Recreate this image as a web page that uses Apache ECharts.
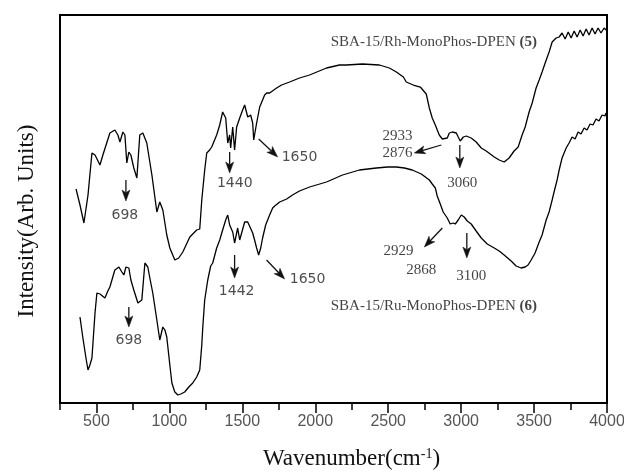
<!DOCTYPE html>
<html><head><meta charset="utf-8">
<script src="https://cdn.jsdelivr.net/npm/echarts@6/dist/echarts.min.js"></script>
<style>html,body{margin:0;padding:0;background:#fff}#c{width:624px;height:472px}</style>
</head><body><div id="c"></div>
<script>
// SBA-15/Rh-MonoPhos-DPEN (5) spectrum (wavenumber, arbitrary intensity)
const rhWavenumber = [360,387,414,442,469,490,524,544,592,626,647,661,681,695,708,722,736,756,777,797,818,845,880,914,934,955,982,1003,1037,1064,1092,1140,1187,1208,1222,1242,1256,1276,1290,1324,1345,1365,1386,1400,1413,1420,1434,1447,1461,1482,1502,1516,1537,1557,1571,1578,1598,1619,1653,1667,1687,1735,1769,1824,1892,1961,2077,2166,2214,2323,2440,2508,2556,2604,2624,2672,2720,2761,2782,2802,2823,2850,2871,2905,2919,2939,2967,2980,2994,3015,3035,3069,3103,3138,3172,3227,3261,3295,3329,3363,3391,3418,3439,3466,3487,3514,3535,3555,3576,3603,3624,3651,3672,3692,3713,3734,3754,3775,3795,3816,3836,3857,3877,3898,3918,3939,3959,3980,3993];
const rhIntensity  = [214,198,180,208,250,248,238,248,270,273,268,261,271,268,240,251,248,235,225,268,270,260,228,191,201,193,168,155,143,145,151,166,173,174,203,233,250,253,256,268,278,291,285,260,268,255,276,253,276,285,293,298,286,288,280,263,280,296,308,310,310,315,318,321,325,328,335,338,338,339,338,335,331,326,321,318,316,309,295,285,278,268,264,265,270,271,270,266,262,266,267,265,261,255,252,246,243,241,245,252,256,268,276,291,300,315,323,331,340,351,361,365,366,370,364,371,365,372,366,373,367,374,368,375,369,375,370,375,373];
// SBA-15/Ru-MonoPhos-DPEN (6) spectrum
const ruWavenumber = [387,407,428,442,455,469,490,503,524,537,558,578,592,626,654,674,688,702,722,736,756,784,811,832,852,866,886,914,934,955,969,982,1003,1017,1037,1058,1078,1105,1133,1160,1187,1208,1222,1229,1242,1263,1283,1297,1324,1345,1365,1386,1400,1413,1434,1447,1468,1482,1495,1516,1537,1550,1571,1584,1598,1612,1626,1639,1660,1687,1708,1722,1756,1804,1844,1892,1961,2077,2187,2303,2419,2494,2556,2611,2665,2727,2782,2802,2823,2836,2857,2877,2905,2925,2946,2960,2980,3001,3021,3042,3069,3103,3138,3179,3227,3261,3295,3343,3377,3411,3439,3459,3480,3507,3535,3555,3583,3603,3624,3637,3658,3672,3692,3706,3720,3740,3761,3781,3802,3822,3843,3863,3884,3904,3925,3945,3966,3986,3993];
const ruIntensity  = [86,65,45,33,38,45,90,110,109,108,105,112,116,133,136,131,128,136,135,123,113,100,103,140,136,125,110,83,63,76,73,66,38,20,11,8,9,11,16,20,26,33,58,76,103,123,137,140,155,163,173,183,188,178,171,160,175,163,163,181,181,180,170,163,155,148,155,165,178,188,195,197,201,204,208,212,216,221,228,233,235,236,236,235,233,229,223,219,215,207,199,191,185,179,180,179,183,188,186,182,179,172,165,159,155,152,148,142,137,135,136,138,143,150,161,168,183,191,203,211,223,233,245,250,255,260,266,264,271,269,275,273,279,278,284,282,288,287,290];

const xMajorTicks = [500,1000,1500,2000,2500,3000,3500,4000];
const xMinorTicks = [250,750,1250,1750,2250,2750,3250,3750];

// peak annotations: text, wavenumber, intensity level
const sansPeakText  = ['698','698','1440','1650','1442','1650'];
const sansPeakWave  = [695,722,1448,1892,1461,1947];
const sansPeakLevel = [188,63,220,246,112,124];
const serifPeakText  = ['2933','2876','3060','2929','2868','3100'];
const serifPeakWave  = [2563,2563,3008,2570,2727,3069];
const serifPeakLevel = [267,250,220,152,133,127];

// arrows: start wave, start level, end wave, end level
const arrowStartWave  = [702,722,1413,1612,1447,1666,2864,2991,2871,3039];
const arrowStartLevel = [223,96,251,264,148,143,258,258,175,170];
const arrowEndWave    = [702,722,1413,1742,1447,1790,2679,2991,2748,3039];
const arrowEndLevel   = [202,76,230,246,125,124,250,235,156,145];

// sample names
const sampleNames  = ['SBA-15/Rh-MonoPhos-DPEN ', 'SBA-15/Ru-MonoPhos-DPEN '];
const sampleNumber = ['(5)', '(6)'];
const sampleWave   = [2813, 2813];
const sampleLevel  = [361, 97];

const zip = (a, b) => a.map((v, i) => [v, b[i]]);

const chart = echarts.init(document.getElementById('c'), null, {renderer: 'canvas'});
const option = {
  animation: false,
  backgroundColor: '#fff',
  grid: {left: 60, right: 17, top: 15, bottom: 69, show: true, borderColor: '#000', borderWidth: 2,
         containLabel: false, outerBoundsMode: 'none'},
  xAxis: [{
    type: 'value', min: 250, max: 4000, position: 'bottom',
    axisLine: {show: true, lineStyle: {color: '#000', width: 2}},
    axisTick: {show: true, customValues: xMajorTicks, length: 10, lineStyle: {color: '#000', width: 1.5}},
    axisLabel: {show: true, customValues: xMajorTicks, margin: 11, color: '#555', fontFamily: 'Liberation Sans', fontSize: 16,
                formatter: v => String(v), hideOverlap: false},
    splitLine: {show: false},
    name: '{t|Wavenumber(cm}{s|-1}{t|)}', nameLocation: 'middle', nameGap: 44,
    nameTextStyle: {padding: [0, 0, 0, 36], rich: {
      t: {fontFamily: 'Liberation Serif', fontSize: 23, color: '#111', lineHeight: 24},
      s: {fontFamily: 'Liberation Serif', fontSize: 14, color: '#111', padding: [0, 0, 10, 0], lineHeight: 24}
    }}
  }, {
    type: 'value', min: 250, max: 4000, position: 'bottom',
    axisLine: {show: false},
    axisTick: {show: true, customValues: xMinorTicks, length: 7, lineStyle: {color: '#000', width: 1.5}},
    axisLabel: {show: false},
    splitLine: {show: false}
  }],
  yAxis: {
    type: 'value', min: 0, max: 388,
    axisLine: {show: false}, axisTick: {show: false}, axisLabel: {show: false}, splitLine: {show: false},
    name: 'Intensity(Arb. Units)', nameLocation: 'middle', nameGap: 22, nameRotate: 90,
    nameTextStyle: {fontFamily: 'Liberation Serif', fontSize: 23, color: '#111', padding: [0, 24, 0, 0]}
  },
  series: [
    {type: 'line', name: 'Rh', data: zip(rhWavenumber, rhIntensity), showSymbol: false, symbol: 'none',
     lineStyle: {color: '#000', width: 1.3}, silent: true},
    {type: 'line', name: 'Ru', data: zip(ruWavenumber, ruIntensity), showSymbol: false, symbol: 'none',
     lineStyle: {color: '#000', width: 1.3}, silent: true},
    {type: 'custom', name: 'arrows', silent: true,
     data: arrowStartWave.map((w, i) => [w, arrowStartLevel[i], arrowEndWave[i], arrowEndLevel[i]]),
     encode: {x: [0, 2], y: [1, 3]},
     renderItem: function (params, api) {
       const p1 = api.coord([api.value(0), api.value(1)]);
       const p2 = api.coord([api.value(2), api.value(3)]);
       const dx = p2[0] - p1[0], dy = p2[1] - p1[1];
       const L = Math.hypot(dx, dy) || 1, ux = dx / L, uy = dy / L;
       const hl = 11, hw = 4;
       const base = [p2[0] - ux * hl, p2[1] - uy * hl];
       const notch = [p2[0] - ux * hl * 0.75, p2[1] - uy * hl * 0.75];
       return {type: 'group', children: [
         {type: 'line', shape: {x1: p1[0], y1: p1[1], x2: notch[0], y2: notch[1]}, style: {stroke: '#111', lineWidth: 1.3}},
         {type: 'polygon', shape: {points: [p2, [base[0] - uy * hw, base[1] + ux * hw], notch, [base[0] + uy * hw, base[1] - ux * hw]]},
          style: {fill: '#111', stroke: '#111', lineWidth: 0.5}}
       ]};
     }},
    {type: 'scatter', name: 'sansPeaks', silent: true, symbolSize: 0,
     data: sansPeakText.map((t, i) => ({name: t, value: [sansPeakWave[i], sansPeakLevel[i]]})),
     label: {show: true, position: 'inside', formatter: '{b}', fontFamily: 'DejaVu Sans', fontSize: 14, color: '#222'}},
    {type: 'scatter', name: 'serifPeaks', silent: true, symbolSize: 0,
     data: serifPeakText.map((t, i) => ({name: t, value: [serifPeakWave[i], serifPeakLevel[i]]})),
     label: {show: true, position: 'inside', formatter: '{b}', fontFamily: 'Liberation Serif', fontSize: 15, color: '#111'}},
    {type: 'scatter', name: 'samples', silent: true, symbolSize: 0,
     data: sampleNames.map((t, i) => ({name: t, value: [sampleWave[i], sampleLevel[i]],
       label: {formatter: '{n|' + t + '}{b|' + sampleNumber[i] + '}'}})),
     label: {show: true, position: 'inside', rich: {
       n: {fontFamily: 'Liberation Serif', fontSize: 15, color: '#111'},
       b: {fontFamily: 'Liberation Serif', fontSize: 15, fontWeight: 'bold', color: '#111'}
     }}}
  ]
};
chart.setOption(option);
</script>
</body></html>
